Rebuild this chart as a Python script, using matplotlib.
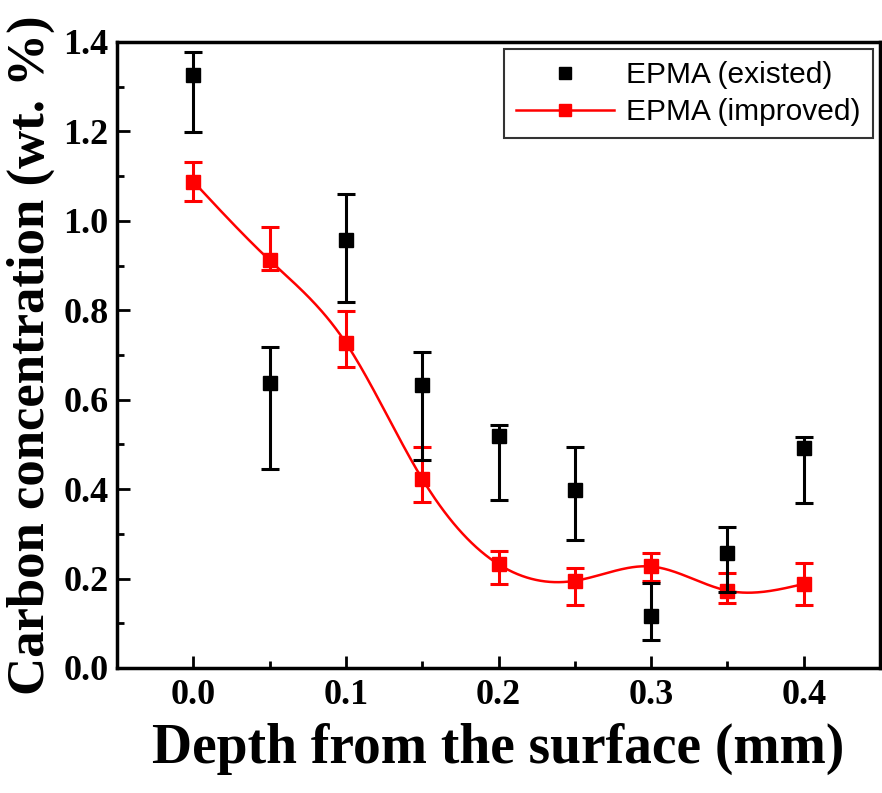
import matplotlib
matplotlib.use('Agg')
import matplotlib.pyplot as plt
from matplotlib.ticker import MultipleLocator
import numpy as np

depth = [0.0, 0.05, 0.1, 0.15, 0.2, 0.25, 0.3, 0.35, 0.4]

existed = [1.326, 0.637, 0.957, 0.633, 0.519, 0.398, 0.116, 0.257, 0.492]
existed_hi = [1.378, 0.718, 1.060, 0.707, 0.543, 0.495, 0.191, 0.316, 0.517]
existed_lo = [1.199, 0.445, 0.818, 0.465, 0.376, 0.286, 0.063, 0.171, 0.370]

improved = [1.088, 0.912, 0.727, 0.423, 0.232, 0.195, 0.227, 0.173, 0.188]
improved_hi = [1.132, 0.987, 0.799, 0.495, 0.262, 0.224, 0.258, 0.212, 0.234]
improved_lo = [1.045, 0.890, 0.673, 0.372, 0.188, 0.141, 0.195, 0.146, 0.140]


def natural_spline(x, y, xs):
    # plain natural cubic spline, no scipy needed
    x = np.asarray(x, float)
    y = np.asarray(y, float)
    n = len(x)
    h = np.diff(x)
    A = np.zeros((n, n))
    b = np.zeros(n)
    A[0, 0] = A[-1, -1] = 1
    for i in range(1, n - 1):
        A[i, i - 1] = h[i - 1]
        A[i, i] = 2 * (h[i - 1] + h[i])
        A[i, i + 1] = h[i]
        b[i] = 3 * ((y[i + 1] - y[i]) / h[i] - (y[i] - y[i - 1]) / h[i - 1])
    c = np.linalg.solve(A, b)
    out = np.empty_like(xs)
    for k, t in enumerate(xs):
        i = min(max(np.searchsorted(x, t) - 1, 0), n - 2)
        d = t - x[i]
        bi = (y[i + 1] - y[i]) / h[i] - h[i] * (2 * c[i] + c[i + 1]) / 3
        di = (c[i + 1] - c[i]) / (3 * h[i])
        out[k] = y[i] + bi * d + c[i] * d ** 2 + di * d ** 3
    return out


serif = 'Liberation Serif'
sans = 'Liberation Sans'

fig = plt.figure(figsize=(8.82, 7.93), dpi=100)
ax = fig.add_axes([117 / 882, 1 - 668 / 793, 763 / 882, 626 / 793])

x = np.array(depth)
ex = np.array(existed)
im = np.array(improved)

xs = np.linspace(depth[0], depth[-1], 400)
ax.plot(xs, natural_spline(depth, improved, xs), color='red', lw=1.8, zorder=2)
ax.errorbar(x, im, yerr=[im - np.array(improved_lo), np.array(improved_hi) - im],
            fmt='s', color='red', ms=10, elinewidth=2.2, capsize=6.5, capthick=2.2, zorder=3)
ax.errorbar(x, ex, yerr=[ex - np.array(existed_lo), np.array(existed_hi) - ex],
            fmt='s', color='black', ms=10, elinewidth=2.2, capsize=6.5, capthick=2.2, zorder=4)

# legend handles
h1, = ax.plot([], [], 's', color='black', ms=9)
h2, = ax.plot([], [], '-s', color='red', ms=9, lw=1.8)
leg = ax.legend([h1, h2], ['EPMA (existed)', 'EPMA (improved)'], loc='upper right',
                prop={'family': sans, 'size': 21.5}, frameon=True, fancybox=False,
                edgecolor='black', borderaxespad=0.25, handlelength=3.3,
                handletextpad=0.4, labelspacing=0.3, borderpad=0.4)
leg.get_frame().set_linewidth(1.5)

ax.set_xlim(-0.05, 0.45)
ax.set_ylim(0, 1.4)
ax.xaxis.set_major_locator(MultipleLocator(0.1))
ax.xaxis.set_minor_locator(MultipleLocator(0.05))
ax.yaxis.set_major_locator(MultipleLocator(0.2))
ax.yaxis.set_minor_locator(MultipleLocator(0.1))
ax.tick_params(which='both', direction='in', width=2, top=False, right=False)
ax.tick_params(which='major', length=9)
ax.tick_params(which='minor', length=5)
for sp in ax.spines.values():
    sp.set_linewidth(2.5)

for lab in ax.get_xticklabels() + ax.get_yticklabels():
    lab.set_fontfamily(serif)
    lab.set_fontweight('bold')
    lab.set_fontsize(26)
ax.tick_params(axis='x', pad=8)
ax.tick_params(axis='y', pad=6)

ax.set_xlabel('Depth from the surface (mm)', fontfamily=serif, fontweight='bold',
              fontsize=40, labelpad=8)
ax.set_ylabel('Carbon concentration (wt. %)', fontfamily=serif, fontweight='bold',
              fontsize=38, labelpad=6)

fig.savefig('out.png', dpi=100)
